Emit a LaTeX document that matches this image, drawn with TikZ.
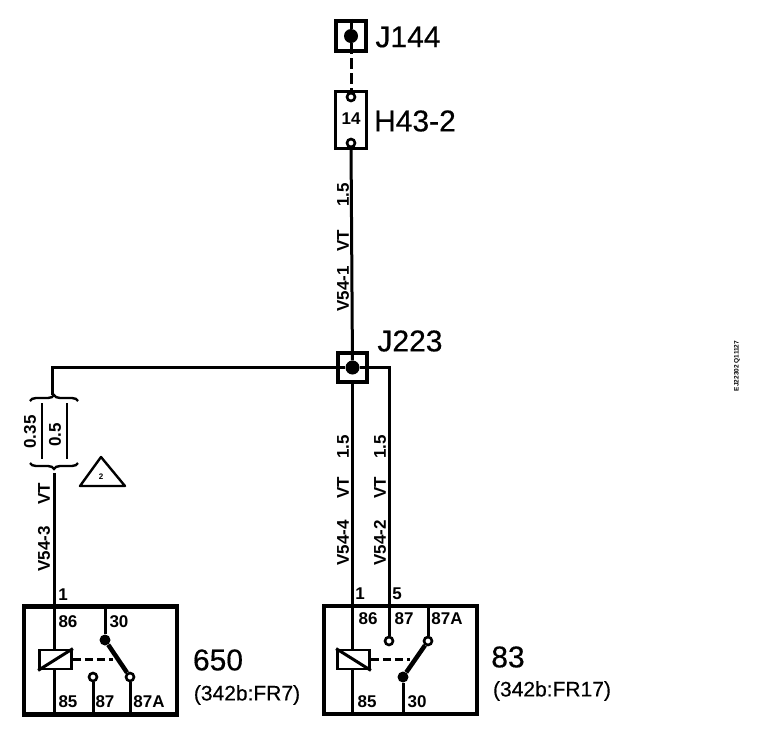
\documentclass[tikz,border=0pt]{standalone}
\usepackage{fontspec}
\setmainfont{Liberation Sans}
\newfontfamily\heavyfont[FakeBold=0.4]{Liberation Sans}
\usetikzlibrary{decorations.pathreplacing}
\tikzset{
	wire/.style={line width=3pt},
	thinwire/.style={line width=2.4pt},
	frame/.style={draw,line width=4.2pt,inner sep=0pt},
	coil/.style={draw,line width=2.8pt,minimum width=32pt,minimum height=19pt,inner sep=0pt},
	soldered/.style={circle,fill,inner sep=0pt,minimum size=14pt},
	smalldot/.style={circle,fill,inner sep=0pt,minimum size=11pt},
	contact/.style={circle,draw,fill=white,line width=2.6pt,inner sep=0pt,minimum size=8pt},
	bigname/.style={font=\heavyfont\fontsize{30}{30}\selectfont},
	reflabel/.style={font=\heavyfont\fontsize{21}{21}\selectfont},
	pinlabel/.style={font=\fontsize{17}{17}\bfseries\selectfont},
	wirelabel/.style={rotate=90,font=\fontsize{17}{17}\bfseries\selectfont},
	sizebrace/.style={thinwire,decorate,decoration={brace,amplitude=6pt}}
}
\begin{document}
\begin{tikzpicture}[x=1pt,y=-1pt]
	\useasboundingbox (0,0) rectangle (768,748);

	% top connector and fuse
	\node[frame,minimum width=30pt,minimum height=30pt] (J144box) at (351,36) {};
	\node[soldered] (J144dot) at (351,36) {};
	\node[frame,line width=3pt,minimum width=31pt,minimum height=57pt] (fuse) at (351,119.5) {};
	\node[contact] (fusetop) at (351,97) {};
	\node[contact] (fusebot) at (351,143) {};
	\draw[wire] (J144box.north) -- (J144dot);
	\draw[wire,dash pattern=on 11pt off 4pt] (J144dot) -- (fusetop);
	\node[pinlabel] (fusenum) at (351,119) {14};
	\node[bigname] (J144name) at (408,37) {J144};
	\node[bigname] (H43name) at (415,121) {H43-2};

	% splice
	\node[frame,minimum width=29pt,minimum height=29pt] (J223box) at (352.5,367.5) {};
	\node[soldered] (J223dot) at (352.5,367.5) {};
	\node[bigname] (J223name) at (410,341) {J223};
	\draw[wire] (fusebot) -- (J223dot);

	% relay 650
	\node[frame,minimum width=153pt,minimum height=108pt] (relayA) at (100.5,660.5) {};
	\coordinate (Ain) at (54,473);
	\coordinate (Abot) at (54,715);
	\coordinate (Atop) at (105,606);
	\node[coil] (Acoil) at (55.5,659.5) {};
	\node[smalldot] (Adot) at (105,640) {};
	\node[contact] (A87) at (93,677) {};
	\node[contact] (A87A) at (130,677) {};
	\coordinate (A87b) at (93,715);
	\coordinate (A87Ab) at (130,715);
	\draw[wire] (Ain) -- (Acoil.north -| Ain);
	\draw[wire] (Acoil.south -| Ain) -- (Abot);
	\draw[wire] (Atop) -- (Adot);
	\draw[line width=4.5pt] (Adot) -- (A87A);
	\draw[wire] (A87) -- (A87b);
	\draw[wire] (A87A) -- (A87Ab);
	\draw[wire] (Acoil.south west) -- (Acoil.north east);
	\coordinate (Amid) at (113,659.5);
	\draw[wire,dash pattern=on 8pt off 4pt] (Acoil.east) -- (Amid);
	\node[pinlabel] at (63,595) {1};
	\node[pinlabel] at (68,622) {86};
	\node[pinlabel] at (119,622) {30};
	\node[pinlabel] at (68,702) {85};
	\node[pinlabel] at (105,702) {87};
	\node[pinlabel] at (149,702) {87A};
	\node[bigname] at (218,660) {650};
	\node[reflabel] at (247,695) {(342b:FR7)};

	% relay 83
	\node[frame,minimum width=153pt,minimum height=108pt] (relayB) at (400.5,660) {};
	\coordinate (Bin) at (352.5,384);
	\coordinate (Bbot) at (352.5,715);
	\coordinate (Bturn) at (389,367.5);
	\coordinate (Bbotb) at (403,715);
	\coordinate (Btop) at (428,606);
	\node[coil] (Bcoil) at (353.5,659.5) {};
	\node[smalldot] (Bdot) at (403,677) {};
	\node[contact] (B87) at (389,641) {};
	\node[contact] (B87A) at (428,641) {};
	\draw[wire] (Bin) -- (Bcoil.north -| Bin);
	\draw[wire] (Bcoil.south -| Bin) -- (Bbot);
	\draw[wire] (J223dot) -- (Bturn) -- (B87);
	\draw[wire] (Btop) -- (B87A);
	\draw[wire] (Bdot) -- (Bbotb);
	\draw[line width=4.5pt] (Bdot) -- (B87A);
	\draw[wire] (Bcoil.north west) -- (Bcoil.south east);
	\coordinate (Bmid) at (410,659.5);
	\draw[wire,dash pattern=on 8pt off 4pt] (Bcoil.east) -- (Bmid);
	\node[pinlabel] at (360,594) {1};
	\node[pinlabel] at (397,594) {5};
	\node[pinlabel] at (368,619) {86};
	\node[pinlabel] at (404,619) {87};
	\node[pinlabel] at (447,619) {87A};
	\node[pinlabel] at (367,702) {85};
	\node[pinlabel] at (417,702) {30};
	\node[bigname] at (508,657) {83};
	\node[reflabel] at (552,691) {(342b:FR17)};

	% left branch with the two sizes
	\coordinate (Lcorner) at (52.5,367.5);
	\coordinate (Lbrace) at (52.5,395);
	\draw[wire] (J223dot) -- (Lcorner) -- (Lbrace);
	\coordinate (topL) at (30,401);
	\coordinate (topR) at (78,401);
	\coordinate (botL) at (78,463);
	\coordinate (botR) at (30,463);
	\draw[sizebrace] (topL) -- (topR);
	\draw[sizebrace] (botL) -- (botR);
	\coordinate (barAt) at (42,403);
	\coordinate (barAb) at (42,459);
	\coordinate (barBt) at (67,403);
	\coordinate (barBb) at (67,459);
	\draw[thinwire] (barAt) -- (barAb);
	\draw[thinwire] (barBt) -- (barBb);
	\node[wirelabel] at (30,432) {0.35};
	\node[wirelabel] at (55,435) {0.5};
	\draw[thinwire,line join=round] (101,457) -- (125,486) -- (80,486) -- cycle;
	\node[font=\fontsize{8}{8}\bfseries\selectfont] at (101,477) {2};

	% wire labels
	\node[wirelabel] at (343,195) {1.5};
	\node[wirelabel] at (343,241) {VT};
	\node[wirelabel] at (343,289) {V54-1};
	\node[wirelabel] at (44,494) {VT};
	\node[wirelabel] at (44,549) {V54-3};
	\node[wirelabel] at (343,447) {1.5};
	\node[wirelabel] at (343,488) {VT};
	\node[wirelabel] at (343,543) {V54-4};
	\node[wirelabel] at (380,447) {1.5};
	\node[wirelabel] at (380,488) {VT};
	\node[wirelabel] at (380,543) {V54-2};

	\node[rotate=90,font=\fontsize{6.5}{6.5}\bfseries\selectfont] at (737,366) {EJ22302 Q11127};
\end{tikzpicture}
\end{document}
